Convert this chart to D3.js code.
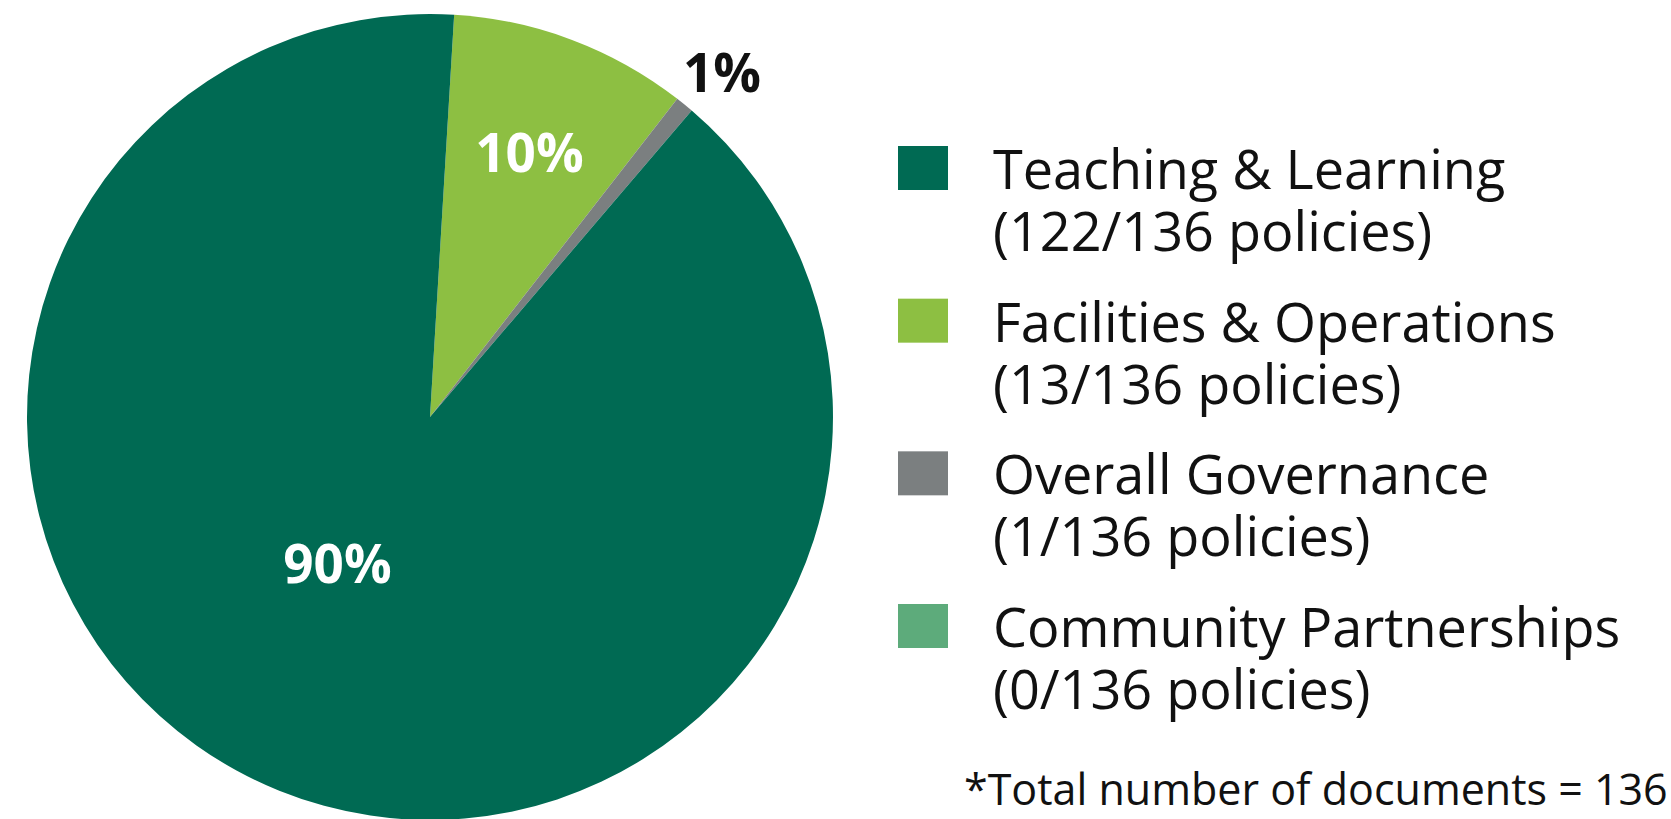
<!DOCTYPE html>
<html>
<head>
<meta charset="utf-8">
<script src="https://cdn.jsdelivr.net/npm/d3@7"></script>
<style>
  html, body { margin: 0; padding: 0; background: #fff; overflow: hidden; }
  text { font-family: "Open Sans", "Noto Sans", sans-serif; }
</style>
</head>
<body>
<div id="chart"></div>
<script>
// data
const categories = ['Facilities & Operations', 'Overall Governance', 'Teaching & Learning', 'Community Partnerships'];
const counts = [13, 1, 122, 0];
const pctLabels = ['10%', '1%', '90%', ''];
const legendOrder = ['Teaching & Learning', 'Facilities & Operations', 'Overall Governance', 'Community Partnerships'];
const colors = ['#8dbf42', '#7b7f80', '#006a53', '#5dab7b'];
const total = 136;
const footnote = '*Total number of documents = ' + total;

const width = 1671, height = 819;
const cx = 430, cy = 417, radius = 403;

const svg = d3.select('#chart')
    .append('svg')
    .attr('width', width)
    .attr('height', height);

const color = d3.scaleOrdinal()
    .domain(categories)
    .range(colors);

const data = categories.map((c, i) => ({ name: c, value: counts[i], label: pctLabels[i] }));

const start = 0.06;
const pie = d3.pie()
    .sort(null)
    .value(d => d.value)
    .startAngle(start)
    .endAngle(start + 2 * Math.PI);

const arc = d3.arc()
    .innerRadius(0)
    .outerRadius(radius);

const pieG = svg.append('g')
    .attr('transform', 'translate(' + cx + ',' + cy + ')');

const arcs = pie(data);

pieG.selectAll('path')
    .data(arcs)
    .enter()
    .append('path')
    .attr('d', arc)
    .attr('fill', d => color(d.data.name));

// big slice label sits lower-left, small ones near/outside the rim
const labelPos = d => {
    const share = d.data.value / total;
    let r = radius * 1.12, shift = 0.02;
    if (share > 0.5) { r = radius * 0.43; shift = 0.18; }
    else if (share > 0.05) { r = radius * 0.70; shift = 0; }
    const a = (d.startAngle + d.endAngle) / 2 + shift;
    return [r * Math.sin(a), -r * Math.cos(a)];
};

pieG.selectAll('text.pct')
    .data(arcs.filter(d => d.data.value > 0))
    .enter()
    .append('text')
    .attr('class', 'pct')
    .attr('transform', d => 'translate(' + labelPos(d) + ')')
    .attr('text-anchor', 'middle')
    .attr('dy', '0.36em')
    .attr('font-size', 53)
    .attr('font-weight', 'bold')
    .attr('fill', d => d.data.value / total < 0.05 ? '#111' : '#fff')
    .text(d => d.data.label);

// legend
const legendY = d3.scalePoint()
    .domain(legendOrder)
    .range([146, 604]);

const legend = svg.append('g')
    .selectAll('g')
    .data(legendOrder)
    .enter()
    .append('g')
    .attr('transform', d => 'translate(898,' + legendY(d) + ')');

legend.append('rect')
    .attr('width', 50)
    .attr('height', 44)
    .attr('fill', d => color(d));

const legendText = legend.append('text')
    .attr('y', 43)
    .attr('font-size', 54)
    .attr('fill', '#111');

legendText.append('tspan')
    .attr('x', 95)
    .text(d => d);

legendText.append('tspan')
    .attr('x', 95)
    .attr('dy', 62)
    .text(d => '(' + counts[categories.indexOf(d)] + '/' + total + ' policies)');

svg.append('text')
    .attr('x', 964)
    .attr('y', 805)
    .attr('font-size', 43)
    .attr('fill', '#111')
    .text(footnote);
</script>
</body>
</html>
